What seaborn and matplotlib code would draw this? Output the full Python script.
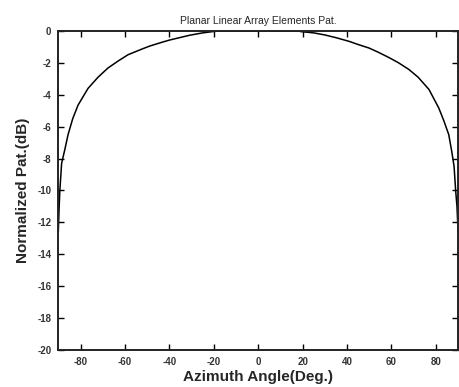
import matplotlib
matplotlib.use('Agg')
import matplotlib.pyplot as plt
import pandas as pd
import seaborn as sns

# values
angle_deg = [-90, -89.6, -89.3, -88.5, -87.0, -85.6, -83.5, -81.1, -76.6, -72.1,
             -67.6, -63.0, -58.6, -52.6, -48.9, -43.6, -39.9, -30.9, -25.0, -20.5,
             -18.0, 0.0, 18.0, 19.2, 25.0, 30.0, 35.0, 40.9, 45.0, 49.9,
             54.0, 58.9, 63.0, 67.9, 72.0, 76.9, 81.3, 83.5, 85.8, 87.2,
             88.2, 88.9, 89.5, 90]
pattern_db = [-12.6, -11.0, -10.0, -8.3, -7.4, -6.5, -5.5, -4.65, -3.6, -2.9,
              -2.32, -1.88, -1.49, -1.15, -0.95, -0.72, -0.57, -0.27, -0.12, -0.04,
              0.0, 0.0, 0.0, -0.04, -0.12, -0.25, -0.42, -0.65, -0.85, -1.07,
              -1.33, -1.67, -1.98, -2.42, -2.9, -3.67, -4.83, -5.6, -6.5, -7.6,
              -8.5, -10.0, -11.0, -12.6]
x_ticks = [-80, -60, -40, -20, 0, 20, 40, 60, 80]
y_ticks = [-20, -18, -16, -14, -12, -10, -8, -6, -4, -2, 0]

sns.set_style('ticks')
plt.rcParams['font.family'] = ['Liberation Sans', 'DejaVu Sans']
plt.rcParams['axes.unicode_minus'] = False
plt.rcParams['xtick.direction'] = 'in'
plt.rcParams['ytick.direction'] = 'in'

df = pd.DataFrame({'angle': angle_deg, 'pat': pattern_db})

fig = plt.figure(figsize=(4.59, 3.87), dpi=100)
ax = fig.add_axes([0.127, 0.096, 0.871, 0.824])
sns.lineplot(data=df, x='angle', y='pat', color='black', linewidth=1.1, ax=ax, sort=False)

ax.set_xlim(-90, 90)
ax.set_ylim(-20, 0)
ax.set_xticks(x_ticks)
ax.set_yticks(y_ticks)
ax.tick_params(top=True, right=True, length=4, width=1, labelsize=7, colors='black',
               labelcolor='#333333', pad=5)
for lab in ax.get_xticklabels() + ax.get_yticklabels():
    lab.set_fontweight('bold')
for sp in ax.spines.values():
    sp.set_visible(True)
    sp.set_linewidth(1.4)
    sp.set_color('#222222')

ax.set_title('Planar Linear Array Elements Pat.', fontsize=7.5, pad=5)
ax.set_xlabel('Azimuth Angle(Deg.)', fontsize=11, fontweight='bold', labelpad=2)
ax.set_ylabel('Normalized Pat.(dB)', fontsize=11, fontweight='bold', labelpad=5)

fig.savefig('out.png', dpi=100)
